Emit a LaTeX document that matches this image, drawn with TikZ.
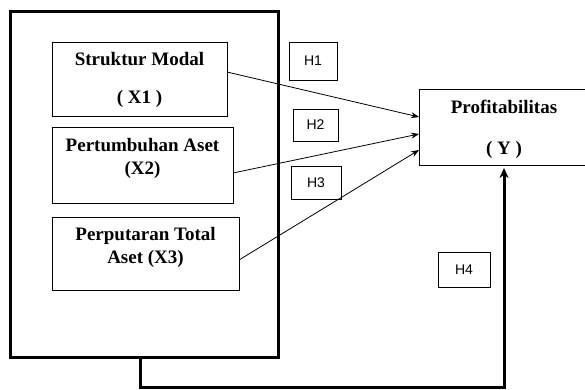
\documentclass[tikz,border=0pt]{standalone}
\usepackage{fontspec}
\setmainfont{Liberation Serif}
\newfontfamily\hypfont{Liberation Sans}
\usetikzlibrary{arrows.meta,positioning}

\begin{document}
\begin{tikzpicture}[x=1pt,y=-1pt,
    varbox/.style={draw,line width=0.8pt,anchor=north west,inner sep=0pt,outer sep=0pt},
    vartext/.style={font=\fontsize{19}{23.5}\selectfont\bfseries,align=center,inner sep=0pt},
    hbox/.style={draw,line width=0.8pt,inner sep=0pt,font=\fontsize{14}{16}\selectfont\hypfont},
    link/.style={line width=0.8pt,-{Stealth[length=8pt,width=6pt]}}]
  \useasboundingbox (0,0) rectangle (585,390);
  % outer frame
  \node[varbox,line width=3pt,minimum width=267.5pt,minimum height=345pt] (frame) at (10.5,12) {};
  % independent variables
  \node[varbox,minimum width=175pt,minimum height=74pt] (x1) at (52,42) {};
  \node[vartext,below=10.5pt of x1.north] (x1t) {Struktur Modal\\[14pt]( X1 )};
  \node[varbox,minimum width=181pt,minimum height=76pt] (x2) at (52,127) {};
  \node[vartext,below=10.8pt of x2.north] (x2t) {Pertumbuhan Aset\\(X2)};
  \node[varbox,minimum width=187pt,minimum height=73pt] (x3) at (52,217) {};
  \node[vartext,below=9.8pt of x3.north] (x3t) {Perputaran Total\\Aset (X3)};
  % dependent variable
  \node[varbox,minimum width=170pt,minimum height=76pt] (y) at (419,89) {};
  \node[vartext,below=10.8pt of y.north] (yt) {Profitabilitas\\[17.5pt]( Y )};
  % hypotheses
  \node[hbox,minimum width=48pt,minimum height=38pt] (h1) at (313,61) {H1};
  \node[hbox,minimum width=45pt,minimum height=32pt] (h2) at (315.5,125) {H2};
  \node[hbox,minimum width=50pt,minimum height=33pt] (h3) at (316,182.5) {H3};
  \node[hbox,minimum width=52pt,minimum height=35pt] (h4) at (464,269.5) {H4};
  % arrows
  \draw[link] ([yshift=7pt]x1.east) -- ([yshift=10pt]y.west);
  \draw[link] ([yshift=-8pt]x2.east) -- ([yshift=-7pt]y.west);
  \draw[link] ([yshift=-6.5pt]x3.east) -- ([yshift=-23pt]y.west);
  \coordinate (turn) at (0,387);
  \draw[line width=3pt,-{Stealth[length=10pt,width=9pt]}] ([xshift=-4pt]frame.south) |- (turn -| y.south) -- ([yshift=-3pt]y.south);
\end{tikzpicture}
\end{document}
